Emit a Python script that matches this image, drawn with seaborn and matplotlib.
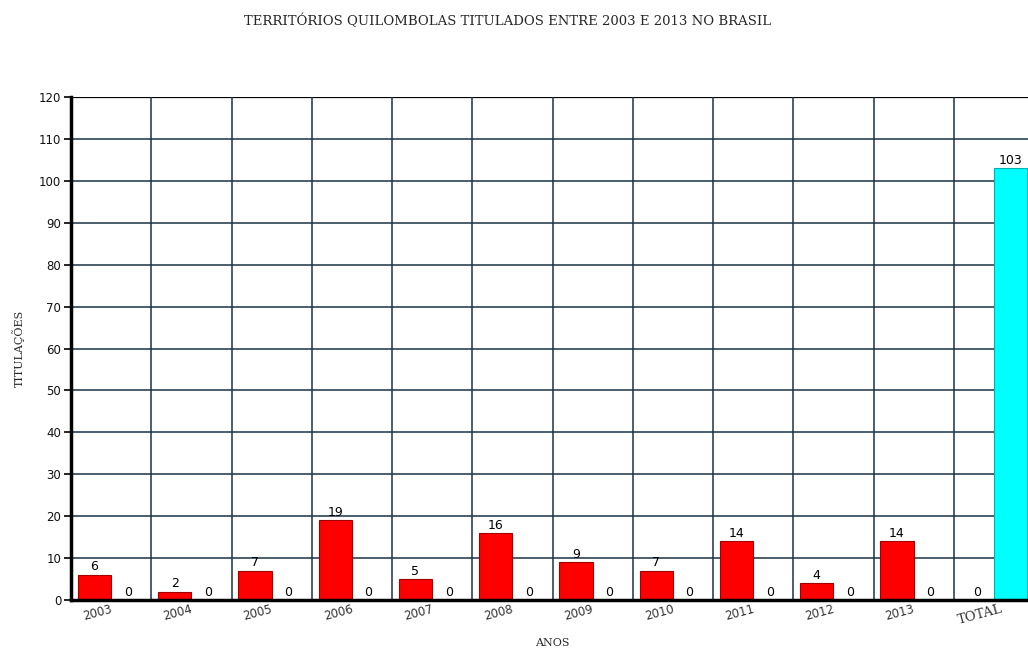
import matplotlib
matplotlib.use("Agg")
import matplotlib.pyplot as plt
import seaborn as sns
import pandas as pd
import numpy as np

anos = ["2003", "2004", "2005", "2006", "2007", "2008", "2009", "2010",
        "2011", "2012", "2013", "TOTAL"]
titulacoes_ano = [6, 2, 7, 19, 5, 16, 9, 7, 14, 4, 14, 0]
titulacoes_total = [0, 0, 0, 0, 0, 0, 0, 0, 0, 0, 0, 103]
series = ["Ano", "Total"]
y_ticks = list(range(0, 121, 10))

df = pd.DataFrame({
    "ano": anos * 2,
    "serie": [series[0]] * len(anos) + [series[1]] * len(anos),
    "valor": titulacoes_ano + titulacoes_total,
})

sns.set_style("white")
plt.rcParams["font.family"] = ["DejaVu Sans"]

fig = plt.figure(figsize=(10.28, 6.49), dpi=100)
ax = fig.add_axes([71 / 1028, 49 / 649, 963 / 1028, 503 / 649])

sns.barplot(data=df, x="ano", y="valor", hue="serie", order=anos,
            hue_order=series, palette=["#ff0000", "#00ffff"], width=0.83,
            dodge=True, legend=False, ax=ax, saturation=1)

edge_cols = ["#a00000", "#00b0b0"]
for cont, ec in zip(ax.containers, edge_cols):
    for patch in cont:
        patch.set_edgecolor(ec)
        patch.set_linewidth(0.8)
    ax.bar_label(cont, fmt="%d", padding=1, fontsize=9, color="black")

grid_col = "#1a3346"
ax.set_ylim(0, 120)
ax.set_xlim(-0.5, len(anos) - 0.5)
ax.set_yticks(y_ticks)
ax.set_yticklabels([str(t) for t in y_ticks], fontsize=8.5, color="#111111")
for t in y_ticks[1:-1]:
    ax.axhline(t, color=grid_col, lw=1.1, zorder=0)
ax.axhline(120, color="black", lw=1.6, zorder=0)
bounds = np.arange(0.5, len(anos) - 0.5, 1.0)
for b in bounds:
    ax.axvline(b, color=grid_col, lw=1.1, zorder=0)

# year labels sit slightly left of each group's centre
label_offset = 0.17
ax.set_xticks(np.arange(len(anos)) - label_offset)
ax.set_xticklabels(anos, rotation=15, fontsize=8.5, color="#333333")
for lbl in ax.get_xticklabels():
    if lbl.get_text() == "TOTAL":
        lbl.set_fontsize(9.5)
        lbl.set_family("DejaVu Serif")
ax.tick_params(axis="x", which="major", length=0, pad=2)
ax.set_xticks(np.concatenate(([-0.5], bounds)), minor=True)
ax.tick_params(axis="x", which="minor", length=5, width=1.2, direction="out",
               color="black")
ax.tick_params(axis="y", length=5, width=1.2, direction="out", color="black",
               pad=2, left=True)

for side in ["top", "right"]:
    ax.spines[side].set_visible(False)
ax.spines["left"].set_linewidth(2.5)
ax.spines["bottom"].set_linewidth(2.5)
ax.spines["left"].set_color("black")
ax.spines["bottom"].set_color("black")

ax.set_xlabel("ANOS", fontsize=8, family="DejaVu Serif", labelpad=8)
ax.set_ylabel("TITULAÇÕES", fontsize=8, family="DejaVu Serif", labelpad=10)

fig.text(508 / 1028, 1 - 21 / 649,
         "TERRITÓRIOS QUILOMBOLAS TITULADOS ENTRE 2003 E 2013 NO BRASIL",
         ha="center", va="center", fontsize=9.5, family="DejaVu Serif")

fig.savefig("out.png", dpi=100, facecolor="white")
